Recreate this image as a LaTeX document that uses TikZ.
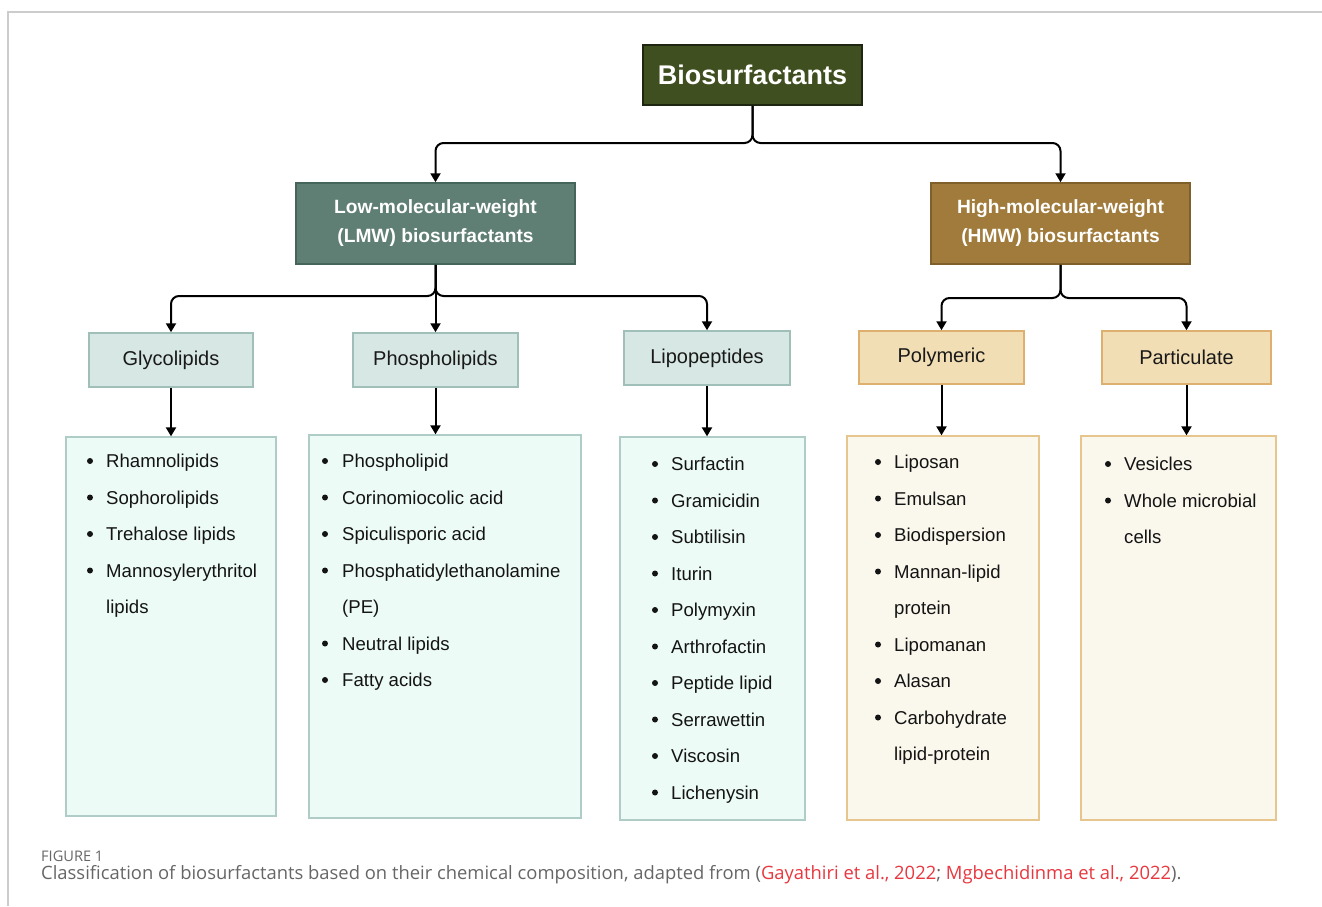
\documentclass[tikz,border=0pt]{standalone}
\usepackage{fontspec}
\setmainfont{Liberation Sans}
\newfontfamily\capfont{Open Sans}
\usetikzlibrary{arrows.meta}
\definecolor{biofill}{HTML}{404F20}
\definecolor{biodraw}{HTML}{1E2612}
\definecolor{lmwfill}{HTML}{5F7E74}
\definecolor{lmwdraw}{HTML}{45655A}
\definecolor{hmwfill}{HTML}{A07B3B}
\definecolor{hmwdraw}{HTML}{80602A}
\definecolor{tealcat}{HTML}{D7E7E3}
\definecolor{tealcatd}{HTML}{9FBFB8}
\definecolor{tealbox}{HTML}{EDFBF7}
\definecolor{tealboxd}{HTML}{B0CCC6}
\definecolor{tancat}{HTML}{F1DEB5}
\definecolor{tancatd}{HTML}{DDB070}
\definecolor{tanbox}{HTML}{FAF7EC}
\definecolor{tanboxd}{HTML}{E6C58E}
\definecolor{framec}{HTML}{CCCCCC}
\definecolor{capgray}{HTML}{666666}
\definecolor{capred}{HTML}{E8373F}
\newcommand\mylist[5]{%
  \foreach \mk/\tx [count=\i from 0] in {#5} {%
    \node[itemtext,name=#1t\i] at (#3,#4+36.5*\i) {\tx};
    \ifnum\mk=1 \node[bulletnode,name=#1b\i] at (#2,#4+36.5*\i) {};\fi
  }}
\begin{document}
\begin{tikzpicture}[x=1pt,y=-1pt,
  box/.style={rectangle,inner sep=0pt,line width=1.5pt},
  topbox/.style={box,fill=biofill,draw=biodraw,text=white,font=\bfseries\fontsize{27}{30}\selectfont},
  midbox/.style={box,text=white,align=center,font=\bfseries\fontsize{19.2}{29}\selectfont},
  catbox/.style={box,text=black!90,font=\fontsize{20}{24}\selectfont},
  listbox/.style={box,line width=1.3pt},
  conn/.style={line width=2pt,rounded corners=8pt,-{Triangle[length=9pt,width=10pt]}},
  itemtext/.style={anchor=west,inner sep=0pt,text height=13.3pt,text depth=0pt,font=\fontsize{18.6}{22}\selectfont,text=black!92},
  bulletnode/.style={circle,inner sep=0pt,minimum size=6pt,fill=black!92}]
\useasboundingbox (0,0) rectangle (1322,906);
\draw[framec,line width=1.3pt] (8,906) -- (8,12) -- (1322,12);
% main boxes
\node[topbox,minimum width=219pt,minimum height=60pt] (bio) at (752.5,75) {Biosurfactants};
\node[midbox,fill=lmwfill,draw=lmwdraw,minimum width=279pt,minimum height=81pt] (lmw) at (435.5,223.5) {Low-molecular-weight\\(LMW) biosurfactants};
\node[midbox,fill=hmwfill,draw=hmwdraw,minimum width=259pt,minimum height=81pt] (hmw) at (1060.5,223.5) {High-molecular-weight\\(HMW) biosurfactants};
% categories
\node[catbox,fill=tealcat,draw=tealcatd,minimum width=164pt,minimum height=54pt] (gly) at (171,360) {Glycolipids};
\node[catbox,fill=tealcat,draw=tealcatd,minimum width=165pt,minimum height=54pt] (pho) at (435.5,360) {Phospholipids};
\node[catbox,fill=tealcat,draw=tealcatd,minimum width=166pt,minimum height=54pt] (lip) at (707,358) {Lipopeptides};
\node[catbox,fill=tancat,draw=tancatd,minimum width=165pt,minimum height=53pt] (pol) at (941.5,357.5) {Polymeric};
\node[catbox,fill=tancat,draw=tancatd,minimum width=169pt,minimum height=53pt] (par) at (1186.5,357.5) {Particulate};
% list boxes
\node[listbox,fill=tealbox,draw=tealboxd,minimum width=210pt,minimum height=379pt] (glist) at (171,626.5) {};
\node[listbox,fill=tealbox,draw=tealboxd,minimum width=272pt,minimum height=383pt] (plist) at (445,626.5) {};
\node[listbox,fill=tealbox,draw=tealboxd,minimum width=185pt,minimum height=383pt] (llist) at (712.5,628.5) {};
\node[listbox,fill=tanbox,draw=tanboxd,minimum width=192pt,minimum height=384pt] (polist) at (943,628) {};
\node[listbox,fill=tanbox,draw=tanboxd,minimum width=195pt,minimum height=384pt] (palist) at (1178.5,628) {};
% connectors
\coordinate (j0) at (752.5,143);
\coordinate (j1) at (435.5,296);
\coordinate (j2) at (1060.5,298);
\draw[conn] (bio.south) -- (j0) -| (lmw.north);
\draw[conn] (bio.south) -- (j0) -| (hmw.north);
\draw[conn] (lmw.south) -- (j1) -| (gly.north);
\draw[conn] (lmw.south) -- (pho.north);
\draw[conn] (lmw.south) -- (j1) -| (lip.north);
\draw[conn] (hmw.south) -- (j2) -| (pol.north);
\draw[conn] (hmw.south) -- (j2) -| (par.north);
\draw[conn] (gly.south) -- (gly.south |- glist.north);
\draw[conn] (pho.south) -- (pho.south |- plist.north);
\draw[conn] (lip.south) -- (lip.south |- llist.north);
\draw[conn] (pol.south) -- (pol.south |- polist.north);
\draw[conn] (par.south) -- (par.south |- palist.north);
% lists
\mylist{g}{90}{106}{461}{1/Rhamnolipids,1/Sophorolipids,1/Trehalose lipids,1/Mannosylerythritol,0/lipids}
\mylist{p}{325}{342}{461}{1/Phospholipid,1/Corinomiocolic acid,1/Spiculisporic acid,1/Phosphatidylethanolamine,0/(PE),1/Neutral lipids,1/Fatty acids}
\mylist{l}{655}{671}{464}{1/Surfactin,1/Gramicidin,1/Subtilisin,1/Iturin,1/Polymyxin,1/Arthrofactin,1/Peptide lipid,1/Serrawettin,1/Viscosin,1/Lichenysin}
\mylist{o}{878}{894}{462}{1/Liposan,1/Emulsan,1/Biodispersion,1/Mannan-lipid,0/protein,1/Lipomanan,1/Alasan,1/Carbohydrate,0/lipid-protein}
\mylist{r}{1108}{1124}{464}{1/Vesicles,1/Whole microbial,0/cells}
% caption
\node[anchor=west,inner sep=0pt,text=capgray,font=\capfont\fontsize{14.6}{16}\selectfont] (figlab) at (41,856) {FIGURE 1};
\node[anchor=west,inner sep=0pt,text=capgray,font=\capfont\fontsize{18.4}{20}\selectfont] (cap) at (41,875) {Classification of biosurfactants based on their chemical composition, adapted from (\textcolor{capred}{Gayathiri et al., 2022}; \textcolor{capred}{Mgbechidinma et al., 2022}).};
\end{tikzpicture}
\end{document}
